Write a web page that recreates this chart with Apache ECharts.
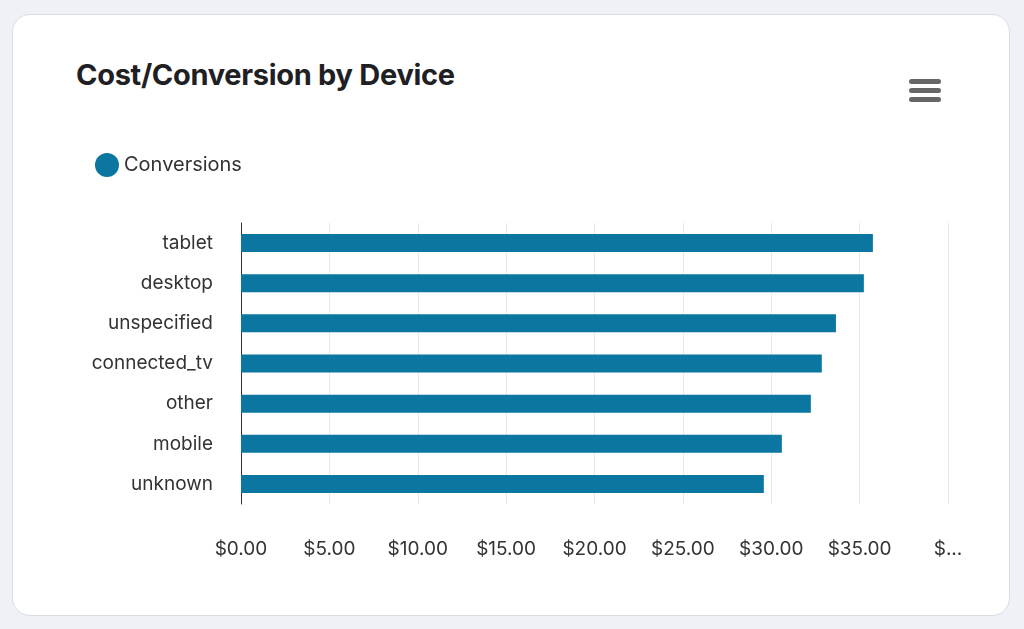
<!DOCTYPE html>
<html>
<head>
<meta charset="UTF-8">
<script src="https://cdn.jsdelivr.net/npm/echarts@6/dist/echarts.min.js"></script>
<style>
  body { margin: 0; background: #eef1f6; width: 1024px; height: 629px; overflow: hidden; font-family: Inter, sans-serif; }
  .card { position: absolute; left: 12px; top: 14px; width: 996px; height: 600px; background: #fff; border: 1px solid #d9dde3; border-radius: 18px; }
  h1 { position: absolute; left: 63px; top: 42px; margin: 0; font-size: 29px; font-weight: 700; color: #1f2023; letter-spacing: -0.3px; }
  .menu { position: absolute; left: 896px; top: 64px; width: 32px; }
  .menu div { height: 5px; background: #666; border-radius: 3px; margin-bottom: 4px; }
  #chart { position: absolute; left: 0; top: 0; width: 1024px; height: 629px; }
</style>
</head>
<body>
<div class="card">
  <h1>Cost/Conversion by Device</h1>
  <div class="menu"><div></div><div></div><div></div></div>
</div>
<div id="chart"></div>
<script>
  const devices = ['unknown', 'mobile', 'other', 'connected_tv', 'unspecified', 'desktop', 'tablet'];
  const costPerConversion = [29.58, 30.6, 32.24, 32.86, 33.66, 35.24, 35.75];

  const chart = echarts.init(document.getElementById('chart'));
  chart.setOption({
    textStyle: { fontFamily: 'Inter, sans-serif' },
    legend: {
      left: 90, top: 148, icon: 'circle', itemWidth: 24, itemHeight: 24,
      textStyle: { fontSize: 20, color: '#333' },
      data: ['Conversions']
    },
    grid: { left: 241, right: 76, top: 223, bottom: 125 },
    xAxis: {
      type: 'value', min: 0, max: 40, interval: 5,
      axisLine: { show: false }, axisTick: { show: false },
      splitLine: { lineStyle: { color: '#e8e8e8' } },
      axisLabel: {
        fontSize: 19, color: '#333', margin: 36,
        formatter: v => v === 40 ? '$...' : '$' + v.toFixed(2)
      }
    },
    yAxis: {
      type: 'category', data: devices,
      axisLine: { lineStyle: { color: '#333' } }, axisTick: { show: false },
      axisLabel: { fontSize: 19, color: '#333', margin: 28 }
    },
    series: [{
      name: 'Conversions', type: 'bar', data: costPerConversion,
      barWidth: 18, itemStyle: { color: '#0b76a0' }
    }]
  });
</script>
</body>
</html>
